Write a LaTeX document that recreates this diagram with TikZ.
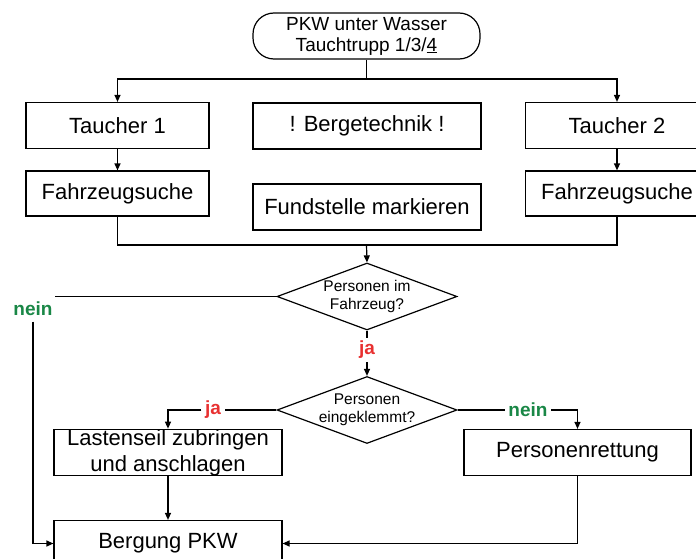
\documentclass[tikz,border=0pt]{standalone}
\usepackage{fontspec}
\setmainfont{Liberation Sans}
\usetikzlibrary{arrows.meta,shapes.geometric}
\definecolor{jared}{RGB}{232,48,48}
\definecolor{neingreen}{RGB}{25,135,70}
\begin{document}
\begin{tikzpicture}[x=1pt,y=-1pt,
    line width=1.2pt,
    arr/.style={-{Triangle[length=7pt,width=6pt]}},
    boxnode/.style={draw, rectangle, inner sep=0pt, minimum width=228pt, minimum height=46pt,
        align=center, font=\fontsize{22}{26}\selectfont},
    smallbox/.style={boxnode, minimum width=183pt},
    startnode/.style={draw, rectangle, rounded corners=21pt, inner sep=0pt, minimum width=227pt,
        minimum height=46pt, align=center, font=\fontsize{19}{21}\selectfont},
    decision/.style={draw, diamond, inner xsep=-15pt, inner ysep=0pt, aspect=2.69,
        minimum width=180pt, minimum height=67pt, align=center, font=\fontsize{15.5}{18.5}\selectfont},
    jalabel/.style={text=jared, inner sep=3pt, font=\fontsize{19}{21}\selectfont\bfseries},
    neinlabel/.style={text=neingreen, inner sep=3pt, font=\fontsize{19}{21}\selectfont\bfseries}]
    \useasboundingbox (0,0) rectangle (696,559);
    \clip (0,0) rectangle (696,559);

    % Start
    \node[startnode] (start) at (366.5,36) {PKW unter Wasser\\Tauchtrupp 1/3/\underline{4}};
    \coordinate (split) at (366.5,79);

    % Taucher und Bergetechnik
    \node[smallbox] (t1) at (117.5,125.5) {Taucher 1};
    \node[boxnode] (berge) at (367,126) {! Bergetechnik !};
    \node[smallbox] (t2) at (617,125.5) {Taucher 2};
    \node[smallbox, minimum height=45pt] (f1) at (117.5,193.5) {Fahrzeugsuche};
    \node[boxnode] (fund) at (367,207) {Fundstelle markieren};
    \node[smallbox, minimum height=45pt] (f2) at (617,193.5) {Fahrzeugsuche};
    \coordinate (join) at (366.5,245);

    \draw (start.south) -- (split);
    \draw[arr] (split) -| (t1.north);
    \draw[arr] (split) -| (t2.north);
    \draw[arr] (t1) -- (f1);
    \draw[arr] (t2) -- (f2);
    \draw (f1.south) |- (join) -| (f2.south);

    % Abfragen
    \node[decision] (q1) at (367,296.5) {Personen im\\Fahrzeug?};
    \node[decision] (q2) at (367,410) {Personen\\eingeklemmt?};
    \draw[arr] (join) -- (q1.north);

    \node[neinlabel] (nein1) at (33,309) {nein};
    \coordinate (nein1end) at (55,296.5);
    \draw (q1.west) -- (nein1end);

    \node[jalabel] (ja1) at (367,350) {ja};
    \draw (q1.south) -- (ja1);
    \draw[arr] (ja1) -- (q2.north);

    % Rettung und Bergung
    \node[boxnode] (last) at (168,452.5) {Lastenseil zubringen\\und anschlagen};
    \node[boxnode, minimum width=227pt] (rett) at (577.5,452.5) {Personenrettung};
    \node[boxnode] (berg) at (168,543.5) {Bergung PKW};

    \node[jalabel] (ja2) at (213,410) {ja};
    \node[neinlabel] (nein2) at (528,410) {nein};
    \draw (q2.west) -- (ja2);
    \draw[arr] (ja2) -| (last.north);
    \draw (q2.east) -- (nein2);
    \draw[arr] (nein2) -| (rett.north);

    \draw[arr] (last) -- (berg);
    \draw[arr] ([yshift=-2pt]nein1.south) |- (berg.west);
    \draw[arr] (rett.south) |- (berg.east);
\end{tikzpicture}
\end{document}
